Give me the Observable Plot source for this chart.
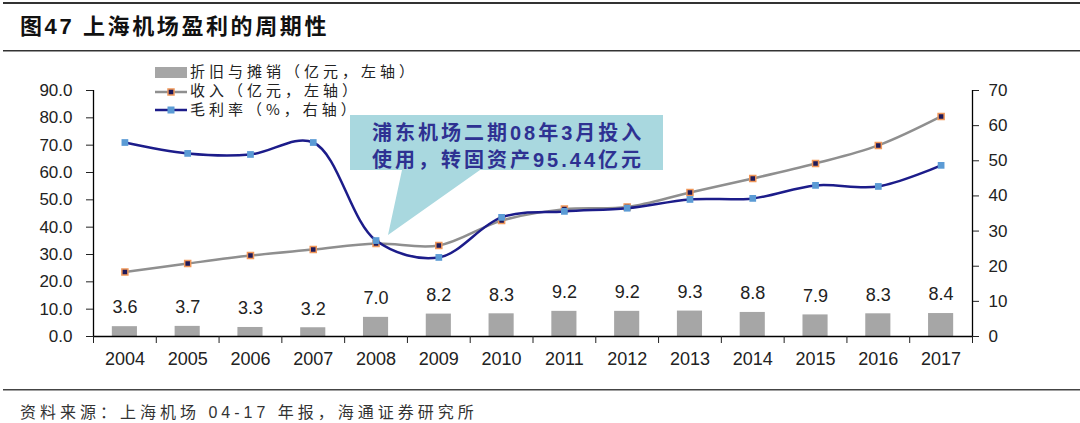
<!DOCTYPE html>
<html><head><meta charset="utf-8">
<script src="https://cdn.jsdelivr.net/npm/d3@7"></script>
<script src="https://cdn.jsdelivr.net/npm/@observablehq/plot@0.6"></script>
<style>
html,body{margin:0;padding:0;background:#fff;}
body{width:1080px;height:423px;position:relative;overflow:hidden;font-family:"Liberation Sans","Noto Sans CJK SC",sans-serif;}
#chart{position:absolute;left:0;top:55px;}
#overlay{position:absolute;left:0;top:0;pointer-events:none;}
</style>
</head><body>
<div id="chart"></div>
<svg id="overlay" width="1080" height="423" xmlns="http://www.w3.org/2000/svg">
  <!-- title block -->
  <rect x="3" y="2" width="1077" height="2" fill="#333"/>
  <rect x="3" y="50" width="1077" height="1.5" fill="#333"/>
  <text x="20" y="34" font-family="Liberation Sans, Noto Sans CJK SC" font-weight="bold" font-size="22" letter-spacing="2.6" fill="#111">图47 上海机场盈利的周期性</text>
  <!-- legend -->
  <g font-family="Noto Sans CJK SC" font-size="15" letter-spacing="4" fill="#222">
    <rect x="155" y="67" width="32" height="11" fill="#a6a6a6"/>
    <text x="190" y="77">折旧与摊销（亿元，左轴）</text>
    <line x1="155" y1="92" x2="187" y2="92" stroke="#8f8f8f" stroke-width="2.5"/>
    <rect x="168" y="89" width="6" height="6" fill="#1e1a5a" stroke="#f0975a" stroke-width="1.5"/>
    <text x="190" y="96">收入（亿元，左轴）</text>
    <line x1="155" y1="110" x2="187" y2="110" stroke="#1c1c8a" stroke-width="2.5"/>
    <rect x="167.5" y="106.5" width="7" height="7" fill="#5b9bd5"/>
    <text x="190" y="115">毛利率（%，右轴）</text>
  </g>
  <!-- callout -->
  <path d="M350,115 H663 V170 H480 L388,235 L402,170 H350 Z" fill="#a9d8df"/>
  <g font-family="Liberation Sans, Noto Sans CJK SC" font-weight="bold" font-size="20" letter-spacing="3" fill="#2e3192">
    <text x="372" y="140">浦东机场二期08年3月投入</text>
    <text x="372" y="167">使用，转固资产95.44亿元</text>
  </g>
  <!-- footer -->
  <rect x="3" y="389" width="1077" height="1.5" fill="#444"/>
  <text x="20" y="418" font-family="Liberation Sans, Noto Sans CJK SC" font-size="16" letter-spacing="4" fill="#333">资料来源：上海机场 04-17 年报，海通证券研究所</text>
</svg>
<script>
const years = [2004,2005,2006,2007,2008,2009,2010,2011,2012,2013,2014,2015,2016,2017];
const depreciation = [3.6,3.7,3.3,3.2,7.0,8.2,8.3,9.2,9.2,9.3,8.8,7.9,8.3,8.4];
const revenue = [23.6,26.7,29.6,31.8,34.0,33.3,42.4,46.6,47.4,52.7,57.8,63.3,69.9,80.5];
const grossMargin = [55.2,52.1,51.8,55.2,27.3,22.5,33.9,35.6,36.5,39.0,39.3,43.0,42.7,48.7];
const leftTicks = [0,10,20,30,40,50,60,70,80,90];
const rightTicks = [0,10,20,30,40,50,60,70];

const k = 90 / 70; // right axis (0-70) mapped onto left axis (0-90)
const data = years.map((y, i) => ({year: y, dep: depreciation[i], rev: revenue[i], gm: grossMargin[i]}));
const boundaries = [years[0] - 0.5, ...years.map(y => y + 0.5)];

const chart = Plot.plot({
  width: 1080,
  height: 335,
  marginTop: 35,
  marginBottom: 54,
  marginLeft: 93,
  marginRight: 108,
  x: {type: "linear", domain: [years[0] - 0.5, years[years.length - 1] + 0.5]},
  y: {domain: [0, 90]},
  style: {fontFamily: "Liberation Sans, Arial, sans-serif", fontSize: "17px", color: "#222", background: "transparent", overflow: "visible"},
  marks: [
    Plot.rectY(data, {x1: d => d.year - 0.2, x2: d => d.year + 0.2, y: "dep", fill: "#a6a6a6"}),
    Plot.text(data, {x: "year", y: "dep", text: d => d.dep.toFixed(1), dy: -19, fontSize: 18, fill: "#222"}),
    Plot.line(data, {x: "year", y: "rev", curve: "catmull-rom", stroke: "#8f8f8f", strokeWidth: 2.5}),
    Plot.dot(data, {x: "year", y: "rev", symbol: "square", r: 3.4, fill: "#1e1a5a", stroke: "#f0975a", strokeWidth: 1.5}),
    Plot.line(data, {x: "year", y: d => d.gm * k, curve: "catmull-rom", stroke: "#1c1c8a", strokeWidth: 2.5}),
    Plot.dot(data, {x: "year", y: d => d.gm * k, symbol: "square", r: 3.8, fill: "#5b9bd5"}),
    Plot.ruleX([boundaries[0], boundaries[boundaries.length - 1]], {stroke: "#000", strokeWidth: 1.3}),
    Plot.ruleY([0], {stroke: "#000", strokeWidth: 1.3}),
    Plot.axisY({ticks: leftTicks, tickFormat: d => d.toFixed(1), tickSize: 7, tickPadding: 14, label: null, fontSize: 17}),
    Plot.axisY({anchor: "right", ticks: rightTicks.map(t => t * k), tickFormat: d => String(Math.round(d / k)), tickSize: 6, tickPadding: 10, label: null, fontSize: 17}),
    Plot.axisX({ticks: boundaries, tickFormat: () => "", tickSize: 7, label: null}),
    Plot.axisX({ticks: years, tickFormat: d => String(d), tickSize: 0, tickPadding: 16, label: null, fontSize: 18})
  ]
});
document.getElementById("chart").appendChild(chart);
</script>
</body></html>
